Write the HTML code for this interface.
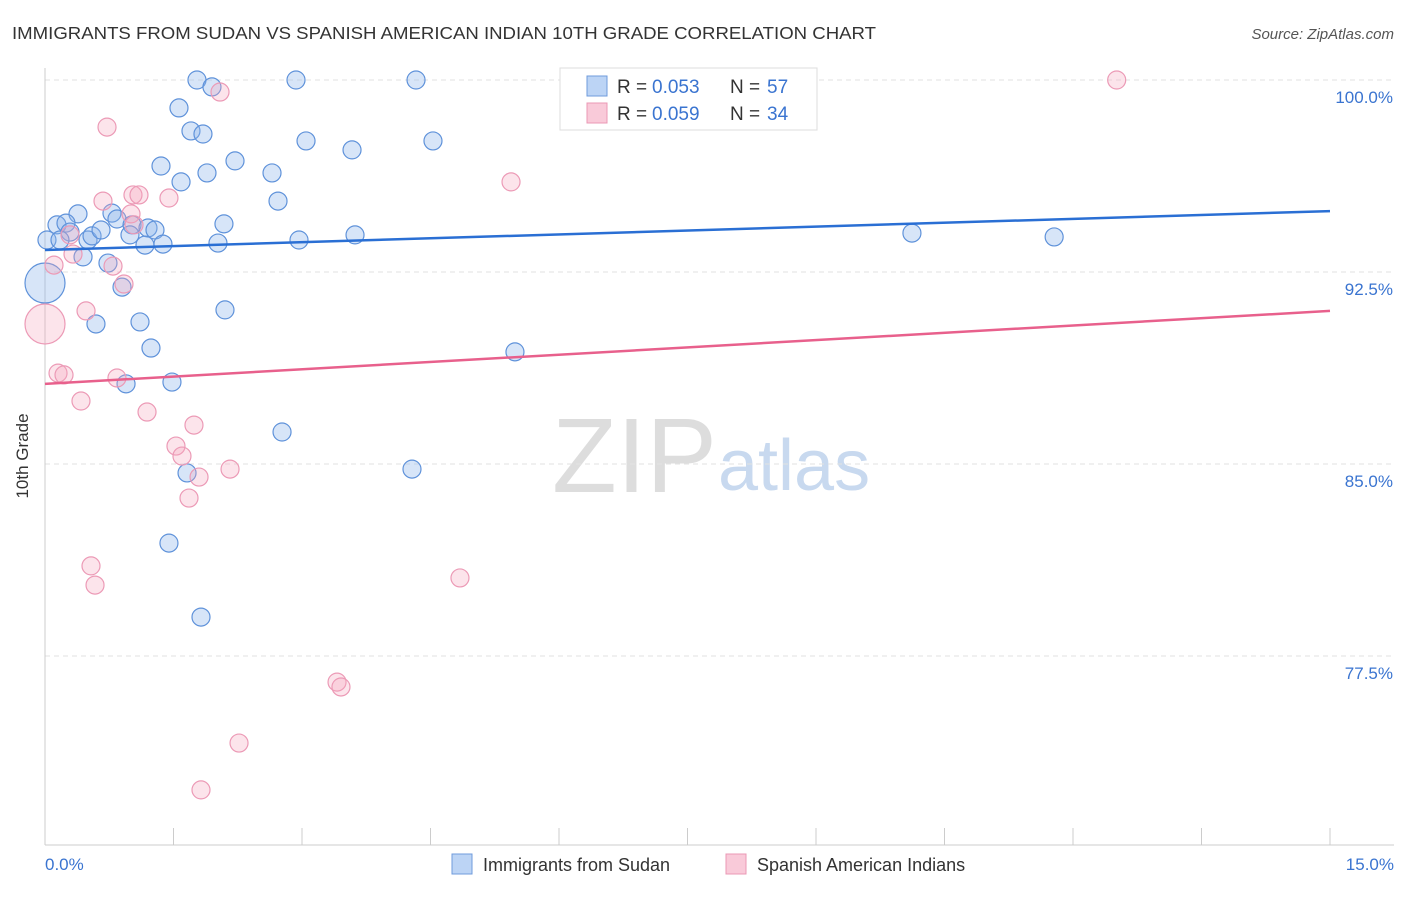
<!DOCTYPE html>
<html><head><meta charset="utf-8"><style>
body{margin:0;background:#fff;font-family:"Liberation Sans",sans-serif;}
svg text{font-family:"Liberation Sans",sans-serif;}
</style></head><body>
<svg width="1406" height="892">
<text x="12" y="39" font-size="17.5" fill="#333" textLength="864" lengthAdjust="spacingAndGlyphs">IMMIGRANTS FROM SUDAN VS SPANISH AMERICAN INDIAN 10TH GRADE CORRELATION CHART</text>
<text x="1394" y="39" font-size="15" fill="#555" font-style="italic" text-anchor="end">Source: ZipAtlas.com</text>
<text x="552" y="492" font-size="106" fill="#ddd" font-family="Liberation Serif">ZIP</text>
<text x="718" y="490" font-size="72" fill="#c8d9ef">atlas</text>
<g id="grid"></g>
<line x1="45" y1="68" x2="45" y2="845" stroke="#ccc"/>
<line x1="45" y1="845" x2="1394" y2="845" stroke="#ccc"/>
<g id="xt"></g>
<text x="28" y="456" font-size="17" fill="#333" text-anchor="middle" transform="rotate(-90 28 456)">10th Grade</text>
<text x="45" y="870" font-size="17" fill="#3a74d0">0.0%</text>
<text x="1394" y="870" font-size="17" fill="#3a74d0" text-anchor="end">15.0%</text>
<g id="pts"></g>
<g id="lines"></g>
<g>
<rect x="560" y="68" width="257" height="62" fill="#fff" stroke="#ddd"/>
<rect x="587" y="76" width="20" height="20" fill="#bcd4f5" stroke="#6f9bdc"/>
<rect x="587" y="103" width="20" height="20" fill="#f9cad9" stroke="#eb98b5"/>
<text x="617" y="93" font-size="19" fill="#333">R =</text>
<text x="652" y="93" font-size="19" fill="#3a74d0">0.053</text>
<text x="730" y="93" font-size="19" fill="#333">N =</text>
<text x="767" y="93" font-size="19" fill="#3a74d0">57</text>
<text x="617" y="120" font-size="19" fill="#333">R =</text>
<text x="652" y="120" font-size="19" fill="#3a74d0">0.059</text>
<text x="730" y="120" font-size="19" fill="#333">N =</text>
<text x="767" y="120" font-size="19" fill="#3a74d0">34</text>
</g>
<g>
<rect x="452" y="854" width="20" height="20" fill="#bcd4f5" stroke="#6f9bdc"/>
<text x="483" y="871" font-size="18" fill="#333">Immigrants from Sudan</text>
<rect x="726" y="854" width="20" height="20" fill="#f9cad9" stroke="#eb98b5"/>
<text x="757" y="871" font-size="18" fill="#333">Spanish American Indians</text>
</g>
</svg>
<script>
const yTicks=[100,92.5,85,77.5];
const yTickLabels=["100.0%","92.5%","85.0%","77.5%"];
const xTicks=[0,1.5,3,4.5,6,7.5,9,10.5,12,13.5,15];
const blueX=[1.774,2.930,4.331,1.949,1.564,1.704,1.844,3.047,4.529,3.584,1.354,2.218,1.891,1.588,2.650,2.720,0.782,0.385,0.140,0.245,0.840,1.016,1.202,1.284,2.089,0.292,0.502,0.549,0.654,0.992,1.167,1.377,2.019,2.965,3.619,10.12,11.78,0.023,0.175,0.444,0.735,0.899,0,0.595,1.109,2.101,1.237,5.486,1.482,0.946,2.767,4.284,1.658,1.447,1.821];
const blueY=[100,100,100,99.73,98.91,98.01,97.89,97.62,97.62,97.27,96.64,96.84,96.37,96.02,96.37,95.27,94.80,94.77,94.34,94.41,94.57,94.34,94.22,94.14,94.38,94.06,93.75,93.91,94.14,93.95,93.55,93.59,93.63,93.75,93.95,94.02,93.87,93.75,93.75,93.09,92.85,91.91,92.07,90.47,90.55,91.02,89.53,89.38,88.20,88.13,86.25,84.80,84.65,81.91,79.02];
const blueBig=[42];
const pinkX=[12.51,2.043,0.724,5.440,0.677,1.027,1.097,1.447,1.004,1.039,0.292,0.327,0.794,0.105,0.922,0.479,0,0.152,0.222,0.840,0.420,1.191,1.739,1.529,1.599,1.798,2.160,1.681,0.537,0.584,4.844,3.409,3.455,2.265,1.821];
const pinkY=[100,99.53,98.16,96.02,95.27,95.51,95.51,95.39,94.77,94.34,93.95,93.20,92.73,92.77,92.03,90.98,90.47,88.55,88.48,88.36,87.46,87.03,86.52,85.70,85.31,84.49,84.80,83.67,81.02,80.27,80.55,76.48,76.29,74.10,72.27];
const pinkBig=[16];
const blueTrend=[93.36,94.88];
const pinkTrend=[88.13,90.98];
const NS="http://www.w3.org/2000/svg";
const sx=v=>45+v/15*1285;
const sy=v=>80+(100-v)*25.6;
function mk(t,a,p){const e=document.createElementNS(NS,t);for(const k in a)e.setAttribute(k,a[k]);p.appendChild(e);return e;}
const grid=document.getElementById('grid');
yTicks.forEach((v,i)=>{
 const l=mk('line',{x1:45,x2:1394,y1:sy(v),y2:sy(v),stroke:'#e2e2e2','stroke-dasharray':'5,4'},grid);
 
 
 const t=mk('text',{x:1393,y:sy(v)+23,'font-size':17,fill:'#3a74d0','text-anchor':'end'},grid);
 t.textContent=yTickLabels[i];
 
 
});
const xt=document.getElementById('xt');
xTicks.forEach(v=>{
 const l=mk('line',{x1:sx(v),x2:sx(v),y1:828,y2:845,stroke:'#ccc'},xt);
 
 
});
const pts=document.getElementById('pts');
blueX.forEach((x,i)=>{
 const c=mk('circle',{cx:sx(x),cy:sy(blueY[i]),r:blueBig.includes(i)?20:9,fill:'rgba(140,180,235,0.35)',stroke:'#5f92da','stroke-width':1.2},pts);
 
 
});
pinkX.forEach((x,i)=>{
 const c=mk('circle',{cx:sx(x),cy:sy(pinkY[i]),r:pinkBig.includes(i)?20:9,fill:'rgba(245,165,190,0.3)',stroke:'#ec9ab6','stroke-width':1.2},pts);
 
 
});
const lines=document.getElementById('lines');
const bl=mk('line',{x1:sx(0),y1:sy(blueTrend[0]),x2:sx(15),y2:sy(blueTrend[1]),stroke:'#2a6fd4','stroke-width':2.5},lines);


const pl=mk('line',{x1:sx(0),y1:sy(pinkTrend[0]),x2:sx(15),y2:sy(pinkTrend[1]),stroke:'#e8608c','stroke-width':2.5},lines);


</script>
</body></html>
